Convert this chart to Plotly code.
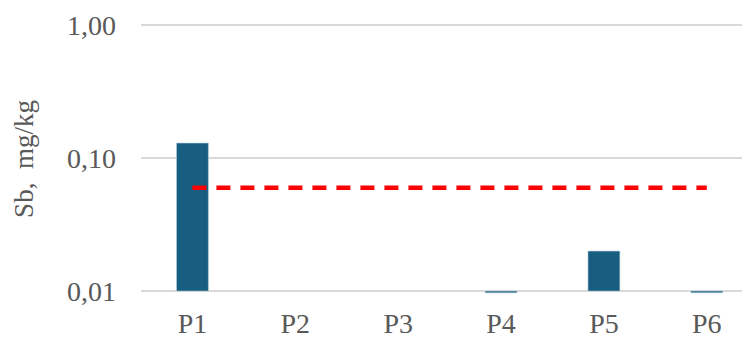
import plotly.graph_objects as go

categories = ["P1", "P2", "P3", "P4", "P5", "P6"]
sb_values = [0.13, None, None, 0.0097, 0.02, 0.0097]
limit_value = [0.06] * 6
y_tickvals = [0.01, 0.1, 1.0]
y_ticktext = ["0,01", "0,10", "1,00"]
axis_base = 0.01

bar_len = [None if v is None else v - axis_base for v in sb_values]

font_family = "Liberation Serif"
text_color = "#595959"

fig = go.Figure()
fig.add_trace(go.Bar(
    x=categories, y=bar_len, base=[axis_base] * len(categories),
    marker=dict(color="#175e80", line=dict(color="#b8d0dc", width=0.6)),
    width=0.31, showlegend=False, hoverinfo="skip",
))
fig.add_trace(go.Scatter(
    x=categories, y=limit_value, mode="lines",
    line=dict(color="#ff0000", width=4.5, dash="14px,10px"),
    showlegend=False, hoverinfo="skip",
))

fig.update_layout(
    width=742, height=332,
    margin=dict(l=133, r=0, t=15.7, b=46, autoexpand=False),
    paper_bgcolor="white", plot_bgcolor="white",
    font=dict(family=font_family, color=text_color, size=28),
    xaxis=dict(
        type="category", range=[-0.5, 5.42], showgrid=False, showline=False,
        ticks="", tickfont=dict(family=font_family, size=28, color=text_color),
        ticklabelstandoff=10, automargin=False,
    ),
    yaxis=dict(
        type="log", range=[-2.022, 0.01], tickvals=y_tickvals, ticktext=y_ticktext,
        showgrid=True, gridcolor="#d9d9d9", gridwidth=1.5, showline=False,
        zeroline=False, ticks="", tickfont=dict(family=font_family, size=28, color=text_color),
        ticklabelstandoff=24, automargin=False,
        title=dict(text="Sb,\u00a0 mg/kg", font=dict(family=font_family, size=27, color=text_color), standoff=25),
    ),
)

fig.write_html("out.html")
